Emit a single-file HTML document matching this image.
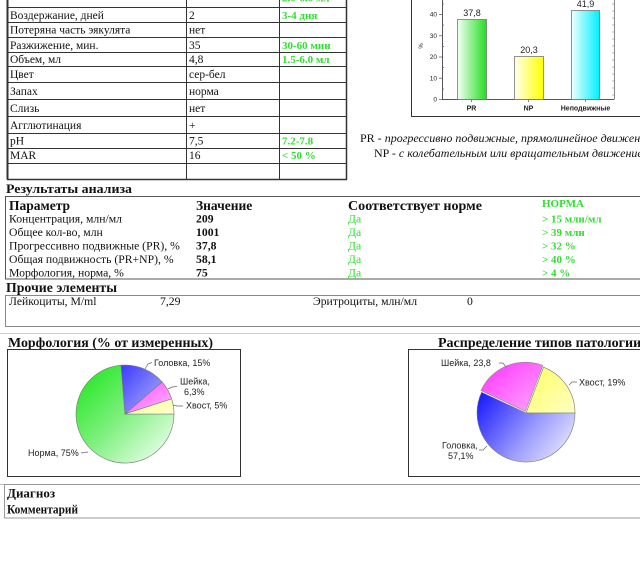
<!DOCTYPE html>
<html>
<head>
<meta charset="utf-8">
<style>
html,body{margin:0;padding:0;background:#fff;}
svg{display:block;}
.s{font-family:"Liberation Serif","Noto Serif CJK SC",serif;fill:#111;}
.a{font-family:"Liberation Sans","Noto Sans CJK SC",sans-serif;fill:#222;}
.g{fill:#33dd33;font-weight:bold;}
.gn{fill:#33dd33;}
.b{font-weight:bold;}
</style>
</head>
<body>
<svg width="640" height="582" viewBox="0 0 640 582" xmlns="http://www.w3.org/2000/svg">
<defs>
  <linearGradient id="gPR" x1="0" y1="0" x2="1" y2="0">
    <stop offset="0" stop-color="#f4fff4"/><stop offset="1" stop-color="#22dd22"/>
  </linearGradient>
  <linearGradient id="gNP" x1="0" y1="0" x2="1" y2="0">
    <stop offset="0" stop-color="#ffffee"/><stop offset="1" stop-color="#ffff00"/>
  </linearGradient>
  <linearGradient id="gNE" x1="0" y1="0" x2="1" y2="0">
    <stop offset="0" stop-color="#eeffff"/><stop offset="1" stop-color="#00f0ff"/>
  </linearGradient>
  <linearGradient id="p1g" gradientUnits="userSpaceOnUse" x1="80" y1="370" x2="168" y2="460">
    <stop offset="0" stop-color="#1fe61f"/><stop offset="0.5" stop-color="#80f080"/><stop offset="1" stop-color="#f2fff2"/>
  </linearGradient>
  <linearGradient id="p1b" x1="0" y1="0" x2="1" y2="1">
    <stop offset="0" stop-color="#3a3aff"/><stop offset="1" stop-color="#b4b4ff"/>
  </linearGradient>
  <linearGradient id="p1p" x1="0" y1="0" x2="1" y2="1">
    <stop offset="0" stop-color="#ff40ff"/><stop offset="1" stop-color="#ffc0ff"/>
  </linearGradient>
  <linearGradient id="p1y" x1="0" y1="0" x2="1" y2="1">
    <stop offset="0" stop-color="#ffff88"/><stop offset="1" stop-color="#ffffd4"/>
  </linearGradient>
  <linearGradient id="p2b" gradientUnits="userSpaceOnUse" x1="480" y1="400" x2="565" y2="465">
    <stop offset="0" stop-color="#2020ff"/><stop offset="0.55" stop-color="#9a9aff"/><stop offset="1" stop-color="#eeeeff"/>
  </linearGradient>
  <linearGradient id="p2p" x1="0" y1="0" x2="1" y2="1">
    <stop offset="0" stop-color="#ff30ff"/><stop offset="1" stop-color="#ffa8ff"/>
  </linearGradient>
  <linearGradient id="p2y" x1="0" y1="0" x2="1" y2="1">
    <stop offset="0" stop-color="#ffff60"/><stop offset="1" stop-color="#ffffc4"/>
  </linearGradient>
</defs>
<rect x="0" y="0" width="640" height="582" fill="#fff"/>

<!-- ===== TOP TABLE ===== -->
<g stroke="#333" stroke-width="1" fill="none">
  <line x1="7.5" y1="0" x2="7.5" y2="179.5" stroke-width="2"/>
  <line x1="186.5" y1="0" x2="186.5" y2="179.5"/>
  <line x1="279.5" y1="0" x2="279.5" y2="179.5"/>
  <line x1="346.5" y1="0" x2="346.5" y2="179.5" stroke-width="1.5"/>
  <line x1="7" y1="7.5" x2="347" y2="7.5"/>
  <line x1="7" y1="22.5" x2="347" y2="22.5"/>
  <line x1="7" y1="37.5" x2="347" y2="37.5"/>
  <line x1="7" y1="52.5" x2="347" y2="52.5"/>
  <line x1="7" y1="66.5" x2="347" y2="66.5"/>
  <line x1="7" y1="82.5" x2="347" y2="82.5"/>
  <line x1="7" y1="99.5" x2="347" y2="99.5"/>
  <line x1="7" y1="116.5" x2="347" y2="116.5"/>
  <line x1="7" y1="133.5" x2="347" y2="133.5"/>
  <line x1="7" y1="148.5" x2="347" y2="148.5"/>
  <line x1="7" y1="163.5" x2="347" y2="163.5"/>
  <line x1="7" y1="179.5" x2="347" y2="179.5" stroke-width="1.5"/>
</g>
<g class="s" font-size="11.5">
  <text x="282" y="1.5" class="g" font-size="11">2.0-6.0 мл</text>
  <text x="10" y="19">Воздержание, дней</text><text x="189" y="19">2</text><text x="282" y="19" class="g" font-size="11">3-4 дня</text>
  <text x="10" y="33.5">Потеряна часть эякулята</text><text x="189" y="33.5">нет</text>
  <text x="10" y="49">Разжижение, мин.</text><text x="189" y="49">35</text><text x="282" y="49" class="g" font-size="11">30-60 мин</text>
  <text x="10" y="63">Объем, мл</text><text x="189" y="63">4,8</text><text x="282" y="63" class="g" font-size="11">1.5-6.0 мл</text>
  <text x="10" y="78">Цвет</text><text x="189" y="78">сер-бел</text>
  <text x="10" y="95">Запах</text><text x="189" y="95">норма</text>
  <text x="10" y="112">Слизь</text><text x="189" y="112">нет</text>
  <text x="10" y="129">Агглютинация</text><text x="189" y="129">+</text>
  <text x="10" y="144.5">pH</text><text x="189" y="144.5">7,5</text><text x="282" y="144.5" class="g" font-size="11">7.2-7.8</text>
  <text x="10" y="159">MAR</text><text x="189" y="159">16</text><text x="282" y="159" class="g" font-size="11">&lt; 50 %</text>
</g>

<!-- ===== BAR CHART ===== -->
<g>
  <line x1="411.5" y1="0" x2="411.5" y2="116.5" stroke="#333"/>
  <line x1="411" y1="116.5" x2="640" y2="116.5" stroke="#333"/>
  <line x1="442.5" y1="0" x2="442.5" y2="99.5" stroke="#555"/>
  <line x1="442" y1="99.5" x2="614" y2="99.5" stroke="#555"/>
  <line x1="614.5" y1="0" x2="614.5" y2="99.5" stroke="#888"/>
  <g stroke="#666" stroke-width="0.8">
    <line x1="439" y1="99.5" x2="442" y2="99.5"/>
    <line x1="439" y1="78.25" x2="442" y2="78.25"/>
    <line x1="439" y1="57" x2="442" y2="57"/>
    <line x1="439" y1="35.75" x2="442" y2="35.75"/>
    <line x1="439" y1="14.5" x2="442" y2="14.5"/>
    <line x1="442" y1="89" x2="444" y2="89"/>
    <line x1="442" y1="67.6" x2="444" y2="67.6"/>
    <line x1="442" y1="46.4" x2="444" y2="46.4"/>
    <line x1="442" y1="25.1" x2="444" y2="25.1"/>
    <line x1="442" y1="4" x2="444" y2="4"/>
    <line x1="471.5" y1="99.5" x2="471.5" y2="102"/>
    <line x1="528.5" y1="99.5" x2="528.5" y2="102"/>
    <line x1="585.5" y1="99.5" x2="585.5" y2="102"/>
  </g>
  <g stroke="#999" stroke-width="0.7">
    <line x1="612" y1="4" x2="614" y2="4"/>
    <line x1="612" y1="11" x2="614" y2="11"/>
    <line x1="612" y1="18" x2="614" y2="18"/>
    <line x1="612" y1="25" x2="614" y2="25"/>
    <line x1="612" y1="32" x2="614" y2="32"/>
    <line x1="612" y1="39" x2="614" y2="39"/>
    <line x1="612" y1="46" x2="614" y2="46"/>
    <line x1="612" y1="53" x2="614" y2="53"/>
    <line x1="612" y1="60" x2="614" y2="60"/>
    <line x1="612" y1="67" x2="614" y2="67"/>
    <line x1="612" y1="74" x2="614" y2="74"/>
    <line x1="612" y1="81" x2="614" y2="81"/>
    <line x1="612" y1="88" x2="614" y2="88"/>
    <line x1="612" y1="95" x2="614" y2="95"/>
  </g>
  <g class="a" font-size="6.5" text-anchor="end" fill="#333">
    <text x="437" y="101.5">0</text>
    <text x="437" y="80.3">10</text>
    <text x="437" y="59">20</text>
    <text x="437" y="37.8">30</text>
    <text x="437" y="16.5">40</text>
  </g>
  <text class="a" font-size="6" transform="translate(423,46) rotate(-90)" text-anchor="middle">%</text>
  <rect x="457.5" y="19.5" width="29" height="80" fill="url(#gPR)" stroke="#777" stroke-width="0.8"/>
  <rect x="514.5" y="56.5" width="29" height="43" fill="url(#gNP)" stroke="#777" stroke-width="0.8"/>
  <rect x="571.5" y="10.5" width="28" height="89" fill="url(#gNE)" stroke="#777" stroke-width="0.8"/>
  <g class="a" font-size="9" text-anchor="middle" fill="#222">
    <text x="472" y="16">37,8</text>
    <text x="529" y="53">20,3</text>
    <text x="585.5" y="7">41,9</text>
  </g>
  <g class="a" font-size="7" font-weight="bold" text-anchor="middle" fill="#222">
    <text x="471.5" y="110.5">PR</text>
    <text x="528.5" y="110.5">NP</text>
    <text x="585.5" y="110.5">Неподвижные</text>
  </g>
</g>

<!-- legend text -->
<g class="s" font-size="12">
  <text x="360" y="142">PR - <tspan font-style="italic">прогрессивно подвижные, прямолинейное движение</tspan></text>
  <text x="374" y="157">NP - <tspan font-style="italic">с колебательным или вращательным движением</tspan></text>
</g>

<!-- ===== RESULTS ===== -->
<text class="s b" x="6" y="193" font-size="13" textLength="126" lengthAdjust="spacingAndGlyphs">Результаты анализа</text>
<rect x="5.5" y="196.5" width="640" height="82.5" fill="none" stroke="#555"/>
<g class="s">
  <text x="9" y="210" font-size="13.5" class="b">Параметр</text>
  <text x="196" y="210" font-size="13.5" class="b">Значение</text>
  <text x="348" y="210" font-size="13.5" class="b" textLength="134" lengthAdjust="spacingAndGlyphs">Соответствует норме</text>
  <text x="542" y="207" font-size="11" class="g">НОРМА</text>

  <text x="9" y="222.5" font-size="11.7">Концентрация, млн/мл</text>
  <text x="196" y="222.5" font-size="11.7" class="b">209</text>
  <text x="348" y="222.5" font-size="11.7" class="gn">Да</text>
  <text x="542" y="222.5" font-size="11" class="g">&gt; 15 млн/мл</text>

  <text x="9" y="236" font-size="11.7">Общее кол-во, млн</text>
  <text x="196" y="236" font-size="11.7" class="b">1001</text>
  <text x="348" y="236" font-size="11.7" class="gn">Да</text>
  <text x="542" y="236" font-size="11" class="g">&gt; 39 млн</text>

  <text x="9" y="249.5" font-size="11.7">Прогрессивно подвижные (PR), %</text>
  <text x="196" y="249.5" font-size="11.7" class="b">37,8</text>
  <text x="348" y="249.5" font-size="11.7" class="gn">Да</text>
  <text x="542" y="249.5" font-size="11" class="g">&gt; 32 %</text>

  <text x="9" y="263" font-size="11.7">Общая подвижность (PR+NP), %</text>
  <text x="196" y="263" font-size="11.7" class="b">58,1</text>
  <text x="348" y="263" font-size="11.7" class="gn">Да</text>
  <text x="542" y="263" font-size="11" class="g">&gt; 40 %</text>

  <text x="9" y="276.5" font-size="11.7">Морфология, норма, %</text>
  <text x="196" y="276.5" font-size="11.7" class="b">75</text>
  <text x="348" y="276.5" font-size="11.7" class="gn">Да</text>
  <text x="542" y="276.5" font-size="11" class="g">&gt; 4 %</text>
</g>

<text class="s b" x="6" y="292" font-size="13.5" textLength="111" lengthAdjust="spacingAndGlyphs">Прочие элементы</text>
<rect x="5.5" y="295.5" width="640" height="31" fill="none" stroke="#888"/>
<g class="s" font-size="11.7">
  <text x="9" y="305">Лейкоциты, M/ml</text>
  <text x="160" y="305">7,29</text>
  <text x="313" y="305">Эритроциты, млн/мл</text>
  <text x="467" y="305">0</text>
</g>

<line x1="0" y1="333.5" x2="640" y2="333.5" stroke="#ccc"/>

<!-- ===== PIE CHARTS ===== -->
<text class="s b" x="8" y="347" font-size="14" textLength="205" lengthAdjust="spacingAndGlyphs">Морфология (% от измеренных)</text>
<text class="s b" x="438" y="347" font-size="14">Распределение типов патологии</text>

<rect x="7.5" y="349.5" width="233" height="127" fill="#fff" stroke="#333"/>
<rect x="408.5" y="349.5" width="240" height="127" fill="#fff" stroke="#333"/>

<!-- pie 1 -->
<g stroke="#777" stroke-width="0.6">
  <path d="M125,414 L174,414 A49,49 0 1 1 121,365.2 Z" fill="url(#p1g)"/>
  <path d="M125,414 L121,365.2 A49,49 0 0 1 162.1,382 Z" fill="url(#p1b)"/>
  <path d="M125,414 L162.1,382 A49,49 0 0 1 171.6,398.9 Z" fill="url(#p1p)"/>
  <path d="M125,414 L171.6,398.9 A49,49 0 0 1 174,414 Z" fill="url(#p1y)"/>
</g>
<g stroke="#666" stroke-width="0.7" fill="none">
  <polyline points="145,369 148,364 152,362.5"/>
  <polyline points="168,389 172,387 177,386.5"/>
  <polyline points="173,405 177,406 183,406"/>
  <polyline points="81,453 88,452"/>
</g>
<g class="a" font-size="9" fill="#222">
  <text x="154" y="366">Головка, 15%</text>
  <text x="180" y="384.5">Шейка,</text>
  <text x="184" y="395">6,3%</text>
  <text x="186" y="408.5">Хвост, 5%</text>
  <text x="28" y="456">Норма, 75%</text>
</g>

<!-- pie 2 -->
<g stroke="#777" stroke-width="0.6">
  <path d="M526,413 L543.6,367.2 A49,49 0 0 1 575,413 Z" fill="url(#p2y)"/>
  <path d="M526,413 L575,413 A49,49 0 1 1 481.6,392.3 Z" fill="url(#p2b)"/>
  <path d="M525.3,411.2 L480.9,390.5 A49,49 0 0 1 542.9,365.4 Z" fill="url(#p2p)" stroke="#888"/>
</g>
<g stroke="#666" stroke-width="0.7" fill="none">
  <polyline points="499,363 503,363 506,367"/>
  <polyline points="569,385 572,382 577,382"/>
  <polyline points="479,450 483,450 487,446"/>
</g>
<g class="a" font-size="9" fill="#222">
  <text x="441" y="366">Шейка, 23,8</text>
  <text x="579" y="385.5">Хвост, 19%</text>
  <text x="442" y="448.5">Головка,</text>
  <text x="448" y="459">57,1%</text>
</g>

<!-- ===== DIAGNOSIS ===== -->
<line x1="0" y1="484.5" x2="640" y2="484.5" stroke="#bbb"/>
<rect x="4.5" y="484.5" width="640" height="33.5" fill="none" stroke="#999"/>
<g class="s b" font-size="13">
  <text x="7" y="497.5">Диагноз</text>
  <text x="7" y="513.5" textLength="71" lengthAdjust="spacingAndGlyphs">Комментарий</text>
</g>
</svg>
</body>
</html>
